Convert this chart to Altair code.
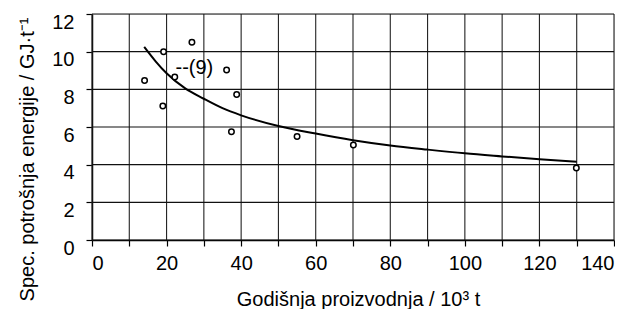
import altair as alt
import pandas as pd

# measured points (open circles)
point_x = [14.1, 19.2, 19.0, 22.2, 26.8, 36.1, 38.8, 37.4, 55.0, 70.1, 129.9]
point_y = [8.47, 10.0, 7.12, 8.65, 10.5, 9.03, 7.72, 5.75, 5.5, 5.04, 3.82]

# fitted curve
curve_x = [14, 17, 20, 25, 30, 35, 40, 50, 60, 70, 80, 90, 100, 110, 120, 130]
curve_y = [10.25, 9.5, 8.85, 8.05, 7.5, 7.0, 6.62, 6.05, 5.65, 5.3, 5.02, 4.8, 4.6, 4.44, 4.29, 4.15]

# annotation
label_text = ["--(9)"]
label_x = [22.4]
label_y = [9.12]

x_ticks = [0, 10, 20, 30, 40, 50, 60, 70, 80, 90, 100, 110, 120, 130, 140]
y_ticks = [0, 2, 4, 6, 8, 10, 12]

FONT = "Liberation Sans"

points = pd.DataFrame({"x": point_x, "y": point_y})
curve = pd.DataFrame({"x": curve_x, "y": curve_y})
labels = pd.DataFrame({"x": label_x, "y": label_y, "t": label_text})
xgrid = pd.DataFrame({"x": x_ticks, "y": [y_ticks[0]] * len(x_ticks), "y2": [y_ticks[-1]] * len(x_ticks)})
ygrid = pd.DataFrame({"y": y_ticks, "x": [x_ticks[0]] * len(y_ticks), "x2": [x_ticks[-1]] * len(y_ticks)})

xs = alt.Scale(domain=[0, 140], nice=False, zero=False)
ys = alt.Scale(domain=[0, 12], nice=False, zero=False)

x_axis = alt.Axis(
    values=x_ticks,
    labelExpr="datum.value % 20 == 0 ? datum.label : ''",
    title="Godišnja proizvodnja / 10³ t",
    grid=False, zindex=0,
    tickSize=6, tickColor="black", tickWidth=1.2,
    domainColor="black", domainWidth=1.5,
    labelFlush=True, labelPadding=7, labelFontSize=20, labelFont=FONT,
    labelColor="black",
    titleFontSize=20, titleFont=FONT, titleFontWeight="normal", titleColor="black",
    titleX=266, titleY=65, titleAlign="center", titleBaseline="alphabetic",
)
y_axis = alt.Axis(
    values=y_ticks,
    title="Spec. potrošnja energije / GJ·t⁻¹",
    grid=False, zindex=0,
    tickSize=6, tickColor="black", tickWidth=1.2,
    domainColor="black", domainWidth=1.5,
    labelBaseline="middle", labelOffset=8, labelPadding=12,
    labelFontSize=20, labelFont=FONT, labelColor="black",
    titleFontSize=20, titleFont=FONT, titleFontWeight="normal", titleColor="black",
    titleAngle=270, titleX=-59, titleY=145, titleAlign="center", titleBaseline="alphabetic",
)

X = alt.X("x:Q", scale=xs, axis=x_axis)
Y = alt.Y("y:Q", scale=ys, axis=y_axis)

vgrid = alt.Chart(xgrid).mark_rule(color="#222222", strokeWidth=1.1, opacity=1).encode(
    x=X, y=Y, y2="y2:Q"
)
hgrid = alt.Chart(ygrid).mark_rule(color="#111111", strokeWidth=1.1, opacity=1).encode(
    x=X, x2="x2:Q", y=Y
)
line = alt.Chart(curve).mark_line(color="black", strokeWidth=2, interpolate="monotone").encode(
    x=X, y=Y
)
pts = alt.Chart(points).mark_point(
    shape="circle", filled=True, fill="white", stroke="black",
    strokeWidth=1.5, size=30, opacity=1,
).encode(x=X, y=Y)
txt = alt.Chart(labels).mark_text(
    align="left", baseline="middle", fontSize=20, font=FONT, color="black"
).encode(x=X, y=Y, text="t:N")

chart = alt.layer(vgrid, hgrid, line, pts, txt).properties(
    width=522, height=226,
    autosize=alt.AutoSizeParams(type="none"),
    padding={"left": 84, "top": 6, "right": 1, "bottom": 69},
).configure_view(stroke="black", strokeWidth=1.5).configure(background="white")

chart.save("out.html", embed_options={"renderer": "svg", "actions": False})
